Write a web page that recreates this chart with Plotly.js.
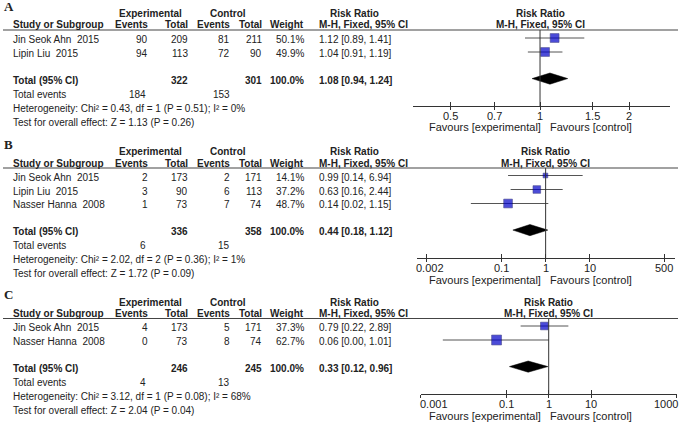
<!DOCTYPE html>
<html>
<head>
<meta charset="utf-8">
<script src="https://cdn.plot.ly/plotly-3.0.1.min.js"></script>
<style>
  html, body { margin: 0; padding: 0; background: #fff; }
  #chart { width: 685px; height: 423px; }
</style>
</head>
<body>
<div id="chart"></div>
<script>
// ---- panel A ----
var studiesA = ['Jin Seok Ahn  2015', 'Lipin Liu  2015'];
var expEventsA = [90, 94];
var expTotalA = [209, 113];
var ctlEventsA = [81, 72];
var ctlTotalA = [211, 90];
var weightA = [50.1, 49.9];
var rrA = [1.12, 1.04];
var loA = [0.89, 0.91];
var hiA = [1.41, 1.19];
var pooledA = [1.08, 0.94, 1.24];
var hetA = 'Chi² = 0.43, df = 1 (P = 0.51); I² = 0%';
var testA = 'Z = 1.13 (P = 0.26)';
var ticksA = [0.5, 0.7, 1, 1.5, 2];

// ---- panel B ----
var studiesB = ['Jin Seok Ahn  2015', 'Lipin Liu  2015', 'Nasser Hanna  2008'];
var expEventsB = [2, 3, 1];
var expTotalB = [173, 90, 73];
var ctlEventsB = [2, 6, 7];
var ctlTotalB = [171, 113, 74];
var weightB = [14.1, 37.2, 48.7];
var rrB = [0.99, 0.63, 0.14];
var loB = [0.14, 0.16, 0.02];
var hiB = [6.94, 2.44, 1.15];
var pooledB = [0.44, 0.18, 1.12];
var hetB = 'Chi² = 2.02, df = 2 (P = 0.36); I² = 1%';
var testB = 'Z = 1.72 (P = 0.09)';
var ticksB = [0.002, 0.1, 1, 10, 500];

// ---- panel C ----
var studiesC = ['Jin Seok Ahn  2015', 'Nasser Hanna  2008'];
var expEventsC = [4, 0];
var expTotalC = [173, 73];
var ctlEventsC = [5, 8];
var ctlTotalC = [171, 74];
var weightC = [37.3, 62.7];
var rrC = [0.79, 0.06];
var loC = [0.22, 0.0033];
var hiC = [2.89, 1.01];
var pooledC = [0.33, 0.12, 0.96];
var hetC = 'Chi² = 3.12, df = 1 (P = 0.08); I² = 68%';
var testC = 'Z = 2.04 (P = 0.04)';
var ticksC = [0.001, 0.1, 1, 10, 1000];

var W = 685, H = 423, STEP = 14, TY = 1.5;
var FONT = 'Liberation Sans, Arial, sans-serif';
var INK = '#222';
function px(x) { return x / W; }
function py(y) { return 1 - y / H; }
function sum(a) { return a.reduce(function (s, v) { return s + v; }, 0); }
function ci(r, l, h) { return r.toFixed(2) + ' [' + l.toFixed(2) + ', ' + h.toFixed(2) + ']'; }

var panels = [
  {label: 'A', studies: studiesA, expEv: expEventsA, expTot: expTotalA, ctlEv: ctlEventsA, ctlTot: ctlTotalA,
   w: weightA, rr: rrA, lo: loA, hi: hiA, pooled: pooledA, het: hetA, test: testA, ticks: ticksA,
   lineY: 30, row0: 38, axisY: 106, x0: 413, x1: 670, range: [-0.428, 0.438]},
  {label: 'B', studies: studiesB, expEv: expEventsB, expTot: expTotalB, ctlEv: ctlEventsB, ctlTot: ctlTotalB,
   w: weightB, rr: rrB, lo: loB, hi: hiB, pooled: pooledB, het: hetB, test: testB, ticks: ticksB,
   lineY: 168, row0: 175.5, axisY: 258, x0: 416.7, x1: 675, range: [-2.93, 2.94]},
  {label: 'C', studies: studiesC, expEv: expEventsC, expTot: expTotalC, ctlEv: ctlEventsC, ctlTot: ctlTotalC,
   w: weightC, rr: rrC, lo: loC, hi: hiC, pooled: pooledC, het: hetC, test: testC, ticks: ticksC,
   lineY: 318.5, row0: 326, axisY: 394.3, x0: 420.7, x1: 676.7, range: [-3, 3]}
];

// table column anchors (right edges, CI column left edge)
var COL = {name: 11, expEv: 150, expTot: 190, ctlEv: 232, ctlTot: 264, weight: 306, ci: 317};

var data = [], annotations = [], shapes = [];
var layout = {
  width: W, height: H,
  margin: {l: 0, r: 0, t: 0, b: 0},
  paper_bgcolor: '#fff', plot_bgcolor: 'rgba(0,0,0,0)',
  showlegend: false,
  font: {family: FONT, size: 10, color: INK}
};

function txt(x, y, s, anchor, opt) {
  opt = opt || {};
  annotations.push({
    xref: 'paper', yref: 'paper', x: px(x), y: py(y + TY),
    text: opt.bold ? '<b>' + s + '</b>' : s,
    showarrow: false, xanchor: anchor, yanchor: 'middle',
    font: {family: opt.family || FONT, size: opt.size || 10, color: INK}
  });
}

// rough width of a numeric label at 11px Arial
function numWidth(s) {
  var w = 0;
  for (var i = 0; i < s.length; i++) w += s[i] === '.' ? 3.06 : 6.12;
  return w;
}

panels.forEach(function (p, k) {
  var xa = k === 0 ? 'x' : 'x' + (k + 1);
  var ya = k === 0 ? 'y' : 'y' + (k + 1);
  var xo = 'x' + (k + 4);   // overlay axis for the lower half of the ticks
  var yTop = (p.lineY - p.row0) / STEP;
  var yBot = (p.axisY - p.row0) / STEP;
  var n = p.studies.length;
  var idx = p.studies.map(function (s, i) { return i; });
  var tot = n + 0.9;
  function rowY(i) { return p.row0 + STEP * i; }
  function toPx(v) { return p.x0 + (Math.log10(v) - p.range[0]) / (p.range[1] - p.range[0]) * (p.x1 - p.x0); }
  var onePx = toPx(1);

  layout['xaxis' + (k === 0 ? '' : k + 1)] = {
    type: 'log', domain: [px(p.x0), px(p.x1)], range: p.range, anchor: ya,
    tickvals: p.ticks, showticklabels: false,
    showline: true, linecolor: '#333', linewidth: 1,
    ticks: 'inside', ticklen: 4, tickcolor: '#333', tickwidth: 1,
    showgrid: false, zeroline: false, fixedrange: true
  };
  layout['xaxis' + (k + 4)] = {
    type: 'log', overlaying: xa, range: p.range, anchor: ya,
    tickvals: p.ticks, showticklabels: false, showline: false,
    ticks: 'outside', ticklen: 3, tickcolor: '#333', tickwidth: 1,
    showgrid: false, zeroline: false, fixedrange: true
  };
  layout['yaxis' + (k === 0 ? '' : k + 1)] = {
    domain: [py(p.axisY), py(p.lineY)], range: [yBot, yTop], anchor: xa,
    visible: false, showgrid: false, zeroline: false, fixedrange: true
  };

  // line of no effect
  data.push({x: [1, 1], y: [yTop, yBot], xaxis: xo, yaxis: ya, mode: 'lines',
    line: {color: '#333', width: 1}, hoverinfo: 'skip'});

  // study estimates with 95% CI
  data.push({
    x: p.rr, y: idx, xaxis: xa, yaxis: ya, mode: 'markers',
    marker: {symbol: 'square', color: '#0000c8',
      size: p.w.map(function (v) { return 1.25 * Math.sqrt(v); }),
      line: {color: '#000060', width: 0.6}},
    error_x: {type: 'data', symmetric: false,
      array: p.hi.map(function (h, i) { return h - p.rr[i]; }),
      arrayminus: p.lo.map(function (l, i) { return p.rr[i] - l; }),
      width: 0, thickness: 1, color: '#555'}
  });

  // pooled diamond
  var pr = p.pooled;
  data.push({
    x: [pr[1], pr[0], pr[2], pr[0], pr[1]], y: [tot, tot - 0.4, tot, tot + 0.4, tot],
    xaxis: xa, yaxis: ya, mode: 'lines', fill: 'toself', fillcolor: '#000',
    line: {color: '#000', width: 0.5}, hoverinfo: 'skip'
  });

  // tick labels, kept inside the axis extent like the original
  p.ticks.forEach(function (v) {
    var s = String(v), c = toPx(v), w = numWidth(s), shift = 0;
    if (c - w / 2 < p.x0) shift = p.x0 - (c - w / 2);
    if (c + w / 2 > p.x1 + 1.5) shift = p.x1 + 1.5 - (c + w / 2);
    annotations.push({
      xref: xa, yref: 'paper', x: Math.log10(v), y: py(p.axisY + 10),
      xshift: shift, text: s, showarrow: false, xanchor: 'center', yanchor: 'middle',
      font: {family: FONT, size: 11, color: INK}
    });
  });

  // header line
  shapes.push({type: 'line', xref: 'paper', yref: 'paper', x0: px(3), x1: px(678),
    y0: py(p.lineY), y1: py(p.lineY), line: {color: '#444', width: 1.2}});

  // headers
  var h1 = p.lineY - 18, h2 = p.lineY - 6.5;
  txt(2, p.lineY - 25.5, p.label, 'left', {bold: true, size: 13, family: 'Liberation Serif, Times New Roman, serif'});
  txt(150, h1, 'Experimental', 'center', {bold: true});
  txt(228, h1, 'Control', 'center', {bold: true});
  txt(354, h1, 'Risk Ratio', 'center', {bold: true});
  txt(onePx, h1, 'Risk Ratio', 'center', {bold: true});
  txt(COL.name, h2, 'Study or Subgroup', 'left', {bold: true});
  txt(COL.expEv, h2, 'Events', 'right', {bold: true});
  txt(COL.expTot, h2, 'Total', 'right', {bold: true});
  txt(COL.ctlEv, h2, 'Events', 'right', {bold: true});
  txt(COL.ctlTot, h2, 'Total', 'right', {bold: true});
  txt(COL.weight, h2, 'Weight', 'right', {bold: true});
  txt(COL.ci, h2, 'M-H, Fixed, 95% CI', 'left', {bold: true});
  txt(onePx, h2, 'M-H, Fixed, 95% CI', 'center', {bold: true});

  // study rows
  p.studies.forEach(function (s, i) {
    var y = rowY(i);
    txt(COL.name, y, s, 'left');
    txt(COL.expEv, y, String(p.expEv[i]), 'right');
    txt(COL.expTot, y, String(p.expTot[i]), 'right');
    txt(COL.ctlEv, y, String(p.ctlEv[i]), 'right');
    txt(COL.ctlTot, y, String(p.ctlTot[i]), 'right');
    txt(COL.weight, y, p.w[i].toFixed(1) + '%', 'right');
    txt(COL.ci, y, ci(p.rr[i], p.lo[i], p.hi[i]), 'left');
  });

  // totals
  var yt = rowY(tot);
  txt(COL.name, yt, 'Total (95% CI)', 'left', {bold: true});
  txt(COL.expTot, yt, String(sum(p.expTot)), 'right', {bold: true});
  txt(COL.ctlTot, yt, String(sum(p.ctlTot)), 'right', {bold: true});
  txt(COL.weight, yt, sum(p.w).toFixed(1) + '%', 'right', {bold: true});
  txt(COL.ci, yt, ci(pr[0], pr[1], pr[2]), 'left', {bold: true});
  txt(COL.name, rowY(tot + 1), 'Total events', 'left');
  txt(COL.expEv - 2, rowY(tot + 1), String(sum(p.expEv)), 'right');
  txt(COL.ctlEv, rowY(tot + 1), String(sum(p.ctlEv)), 'right');
  txt(COL.name, rowY(tot + 2), 'Heterogeneity: ' + p.het, 'left');
  txt(COL.name, rowY(tot + 3), 'Test for overall effect: ' + p.test, 'left');

  // favours labels
  txt(542.5, p.axisY + 20, 'Favours [experimental]', 'right', {size: 11});
  txt(547.5, p.axisY + 20, 'Favours [control]', 'left', {size: 11});
});

layout.annotations = annotations;
layout.shapes = shapes;

Plotly.newPlot('chart', data, layout, {staticPlot: true, displayModeBar: false});
</script>
</body>
</html>
